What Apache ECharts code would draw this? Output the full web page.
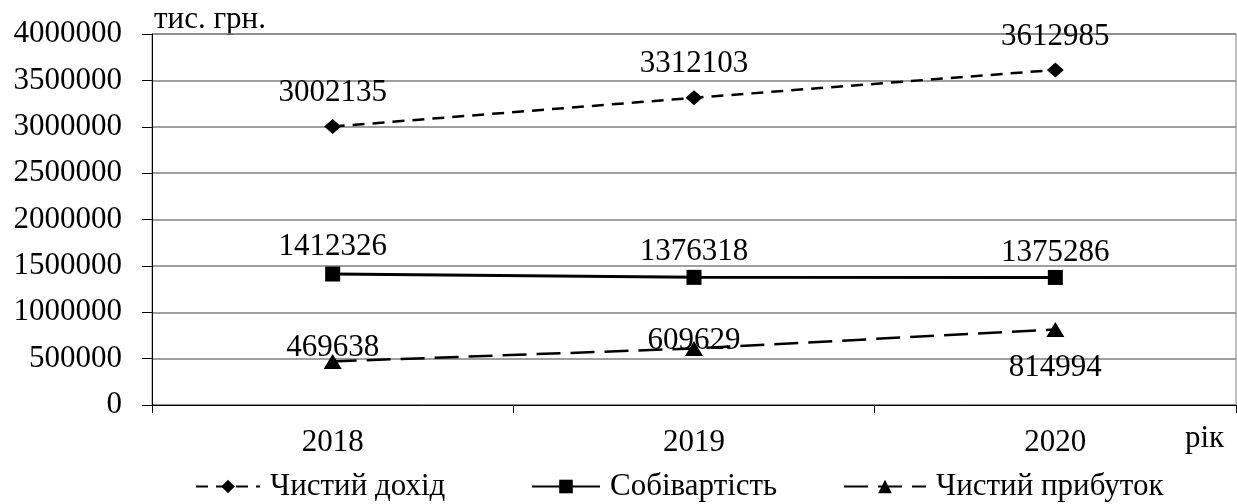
<!DOCTYPE html>
<html>
<head>
<meta charset="utf-8">
<script src="https://cdn.jsdelivr.net/npm/echarts@6/dist/echarts.min.js"></script>
<style>
  html, body { margin: 0; padding: 0; background: #fff; }
  #chart { width: 1237px; height: 504px; }
</style>
</head>
<body>
<div id="chart"></div>
<script>
// Роки
const years = ['2018', '2019', '2020'];
// Показники, тис. грн.
const netIncome = [3002135, 3312103, 3612985];
const costPrice = [1412326, 1376318, 1375286];
const netProfit = [469638, 609629, 814994];
// Підписи шкали
const yTicks = [0, 500000, 1000000, 1500000, 2000000, 2500000, 3000000, 3500000, 4000000];

const seriesNames = ['Чистий дохід', 'Собівартість', 'Чистий прибуток'];
const FONT = '"Liberation Serif", "Times New Roman", serif';
const FS = 31;

// Зсув підписів значень відносно точки (по вертикалі)
const incomeLabelDy = [-34, -34, -33];
const costLabelDy = [-27, -25, -25];
const profitLabelDy = [-14, -8, 38];

const chart = echarts.init(document.getElementById('chart'));

function withLabels(values, dys) {
  return values.map((v, i) => ({ value: v, label: { offset: [0, dys[i]] } }));
}

const labelBase = {
  show: true,
  position: 'inside',
  color: '#000',
  fontFamily: FONT,
  fontSize: FS
};

const legendText = { color: '#000', fontFamily: FONT, fontSize: FS, padding: [0, 0, 0, 5] };

function legendFor(name, left, width) {
  return {
    left: left, top: 466,
    itemWidth: width, itemHeight: 17,
    textStyle: legendText,
    data: [name],
    selectedMode: false
  };
}

chart.setOption({
  animation: false,
  backgroundColor: '#fff',
  grid: {
    left: 152, right: 1, top: 34, bottom: 99,
    show: true, borderColor: '#808080', borderWidth: 1
  },
  legend: [
    legendFor(seriesNames[0], 190, 64),
    legendFor(seriesNames[1], 526, 68),
    legendFor(seriesNames[2], 838, 82)
  ],
  graphic: [
    {
      type: 'text', left: 154, top: 4,
      style: { text: 'тис. грн.', fill: '#000', font: FS + 'px ' + FONT }
    },
    {
      type: 'text', left: 1185, top: 423,
      style: { text: 'рік', fill: '#000', font: FS + 'px ' + FONT }
    }
  ],
  xAxis: {
    type: 'category',
    data: years,
    boundaryGap: true,
    axisLine: { lineStyle: { color: '#000', width: 1 } },
    axisTick: { show: true, length: 8, lineStyle: { color: '#000' } },
    axisLabel: { color: '#000', fontFamily: FONT, fontSize: FS, margin: 22 },
    splitLine: { show: false }
  },
  yAxis: {
    type: 'value',
    min: 0, max: 4000000, interval: 500000,
    axisLine: { show: true, lineStyle: { color: '#000', width: 1 } },
    axisTick: { show: true, length: 10, lineStyle: { color: '#000' } },
    axisLabel: {
      color: '#000', fontFamily: FONT, fontSize: FS, margin: 30,
      formatter: v => yTicks.includes(v) ? String(v) : ''
    },
    splitLine: { lineStyle: { color: '#808080', width: 1.5 } }
  },
  series: [
    {
      name: seriesNames[0],
      type: 'line',
      data: withLabels(netIncome, incomeLabelDy),
      symbol: 'diamond', symbolSize: [17, 15],
      itemStyle: { color: '#000' },
      lineStyle: { color: '#000', width: 2.5, type: [12, 8] },
      label: labelBase
    },
    {
      name: seriesNames[1],
      type: 'line',
      data: withLabels(costPrice, costLabelDy),
      symbol: 'rect', symbolSize: 15,
      itemStyle: { color: '#000' },
      lineStyle: { color: '#000', width: 3, type: 'solid' },
      label: labelBase
    },
    {
      name: seriesNames[2],
      type: 'line',
      data: withLabels(netProfit, profitLabelDy),
      symbol: 'triangle', symbolSize: [18, 15],
      itemStyle: { color: '#000' },
      lineStyle: { color: '#000', width: 2.5, type: [24, 10] },
      label: labelBase
    }
  ]
});
</script>
</body>
</html>
